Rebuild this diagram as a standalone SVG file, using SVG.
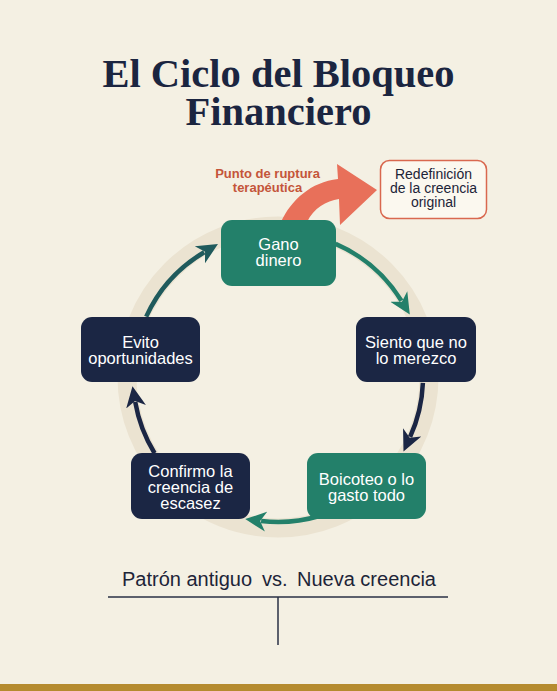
<svg xmlns="http://www.w3.org/2000/svg" width="557" height="691" viewBox="0 0 557 691">
<style>
.title{font-family:"Liberation Serif",serif;font-weight:bold;font-size:40.5px;fill:#1b2540;text-anchor:middle}
.nt{font-family:"Liberation Sans",Arial,sans-serif;font-size:16.5px;fill:#ffffff;text-anchor:middle}
.rt{font-family:"Liberation Sans",Arial,sans-serif;font-size:14px;fill:#1d2438;text-anchor:middle}
.lab{font-family:"Liberation Sans",Arial,sans-serif;font-weight:bold;font-size:13px;fill:#c4553a;text-anchor:middle}
.bt{font-family:"Liberation Sans",Arial,sans-serif;font-size:20px;fill:#1d2438}
.navy{fill:#1b2644}
.green{fill:#23806a}
.arc{fill:none;stroke-width:4.5}
</style>
<defs>
<marker id="hg" markerUnits="userSpaceOnUse" markerWidth="22" markerHeight="22" viewBox="0 0 22 22" refX="5" refY="11" orient="auto"><path d="M0,1 L21,11 L0,21 L6,11 z" fill="#23806a"/></marker>
<marker id="hn" markerUnits="userSpaceOnUse" markerWidth="22" markerHeight="22" viewBox="0 0 22 22" refX="5" refY="11" orient="auto"><path d="M0,1 L21,11 L0,21 L6,11 z" fill="#1b2644"/></marker>
<marker id="ht" markerUnits="userSpaceOnUse" markerWidth="22" markerHeight="22" viewBox="0 0 22 22" refX="5" refY="11" orient="auto"><path d="M0,1 L21,11 L0,21 L6,11 z" fill="#1f5a5c"/></marker>
</defs>
<rect x="0" y="0" width="557" height="691" fill="#f4f0e3"/>
<rect x="0" y="684" width="557" height="7" fill="#b58b2f"/>
<circle cx="278" cy="377" r="151" fill="none" stroke="#ebe3d1" stroke-width="19"/>
<text class="title" x="278.5" y="87">El Ciclo del Bloqueo</text>
<text class="title" x="278.5" y="125">Financiero</text>
<g id="connectors">
<path class="arc" stroke="#1f5a5c" marker-end="url(#ht)" d="M146.2,316.6 A145,145 0 0 1 204.2,252.2"/>
<path class="arc" stroke="#23806a" marker-end="url(#hg)" d="M335.6,243.9 A145,145 0 0 1 401.4,300.8"/>
<path class="arc" stroke="#1b2644" marker-end="url(#hn)" d="M422.9,382.8 A145,145 0 0 1 410.1,436.9"/>
<path class="arc" stroke="#23806a" marker-end="url(#hg)" d="M319.4,516.0 A145,145 0 0 1 261.1,521.0"/>
<path class="arc" stroke="#1b2644" marker-end="url(#hn)" d="M154.6,453.2 A145,145 0 0 1 135.2,401.9"/>
<path id="ruptura-arrow" fill="#e8705a" d="M281,222 C291,200 311,182 338,179 L337,164 L377,190 L340,225 L339,199 C326,201 314,208 307,222 Z"/>
</g>
<g id="node-gano">
<rect class="green" x="221" y="220" width="115" height="66" rx="11"/>
<text class="nt" x="278.5" y="250">Gano</text>
<text class="nt" x="278.5" y="266">dinero</text>
</g>
<g id="node-siento">
<rect class="navy" x="356" y="317" width="120" height="65" rx="11"/>
<text class="nt" x="416" y="348">Siento que no</text>
<text class="nt" x="416" y="364">lo merezco</text>
</g>
<g id="node-boicoteo">
<rect class="green" x="307" y="453" width="119" height="66" rx="11"/>
<text class="nt" x="366.5" y="485">Boicoteo o lo</text>
<text class="nt" x="366.5" y="501">gasto todo</text>
</g>
<g id="node-confirmo">
<rect class="navy" x="131" y="453" width="119" height="66" rx="11"/>
<text class="nt" x="190.5" y="477">Confirmo la</text>
<text class="nt" x="190.5" y="493">creencia de</text>
<text class="nt" x="190.5" y="509">escasez</text>
</g>
<g id="node-evito">
<rect class="navy" x="81" y="317" width="119" height="65" rx="11"/>
<text class="nt" x="140.5" y="348">Evito</text>
<text class="nt" x="140.5" y="364">oportunidades</text>
</g>
<g id="node-redefinicion">
<rect x="380.5" y="160.5" width="106" height="58" rx="9" fill="#fbf8ef" stroke="#d9684f" stroke-width="1.5"/>
<text class="rt" x="433.5" y="179">Redefinición</text>
<text class="rt" x="433.5" y="193">de la creencia</text>
<text class="rt" x="433.5" y="207">original</text>
</g>
<g id="label-ruptura">
<text class="lab" x="267.5" y="178">Punto de ruptura</text>
<text class="lab" x="267.5" y="192">terapéutica</text>
</g>
<g id="comparison">
<text class="bt" x="122" y="586">Patrón antiguo</text>
<text class="bt" x="262" y="586">vs.</text>
<text class="bt" x="297" y="586">Nueva creencia</text>
<line x1="108" y1="597" x2="448" y2="597" stroke="#2a3045" stroke-width="1.5"/>
<line x1="278" y1="597" x2="278" y2="645" stroke="#2a3045" stroke-width="1.5"/>
</g>
</svg>
